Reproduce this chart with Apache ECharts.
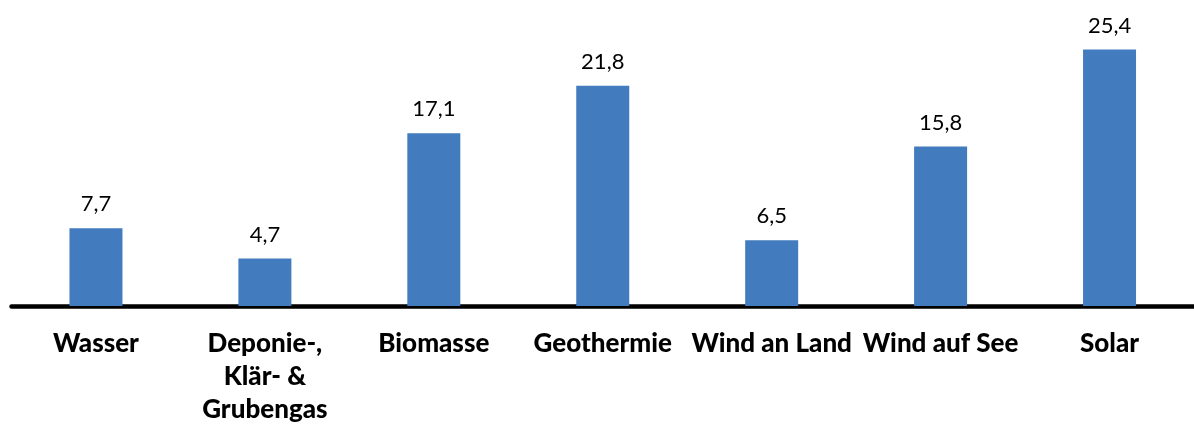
<!DOCTYPE html>
<html><head><meta charset="utf-8">
<script src="https://cdn.jsdelivr.net/npm/echarts@6/dist/echarts.min.js"></script>
<style>html,body{margin:0;padding:0;background:#fff}#c{width:1194px;height:430px}</style>
</head><body><div id="c"></div>
<script>
var categories = ["Wasser", "Deponie-,\nKlär- &\nGrubengas", "Biomasse", "Geothermie", "Wind an Land", "Wind auf See", "Solar"];
var values = [7.7, 4.7, 17.1, 21.8, 6.5, 15.8, 25.4];

var chart = echarts.init(document.getElementById('c'), null, {renderer: 'canvas'});
chart.setOption({
  animation: false,
  backgroundColor: '#ffffff',
  grid: {left: 11.5, right: -5, top: 3, bottom: 124, containLabel: false},
  xAxis: {
    type: 'category',
    data: categories,
    axisLine: {show: true, lineStyle: {color: '#000', width: 4.5}},
    axisTick: {show: false},
    axisLabel: {
      interval: 0, color: '#000', fontFamily: 'Lato', fontWeight: 900,
      fontSize: 26, lineHeight: 33, margin: 21
    }
  },
  yAxis: {type: 'value', min: 0, max: 30, show: false, splitLine: {show: false}},
  series: [{
    type: 'bar',
    data: values,
    barWidth: 53,
    itemStyle: {color: '#427CBE'},
    label: {
      show: true, position: 'top', distance: 13, color: '#000',
      fontFamily: 'Lato', fontSize: 22,
      formatter: function (p) { return p.value.toFixed(1).replace('.', ','); }
    }
  }]
});
</script></body></html>
